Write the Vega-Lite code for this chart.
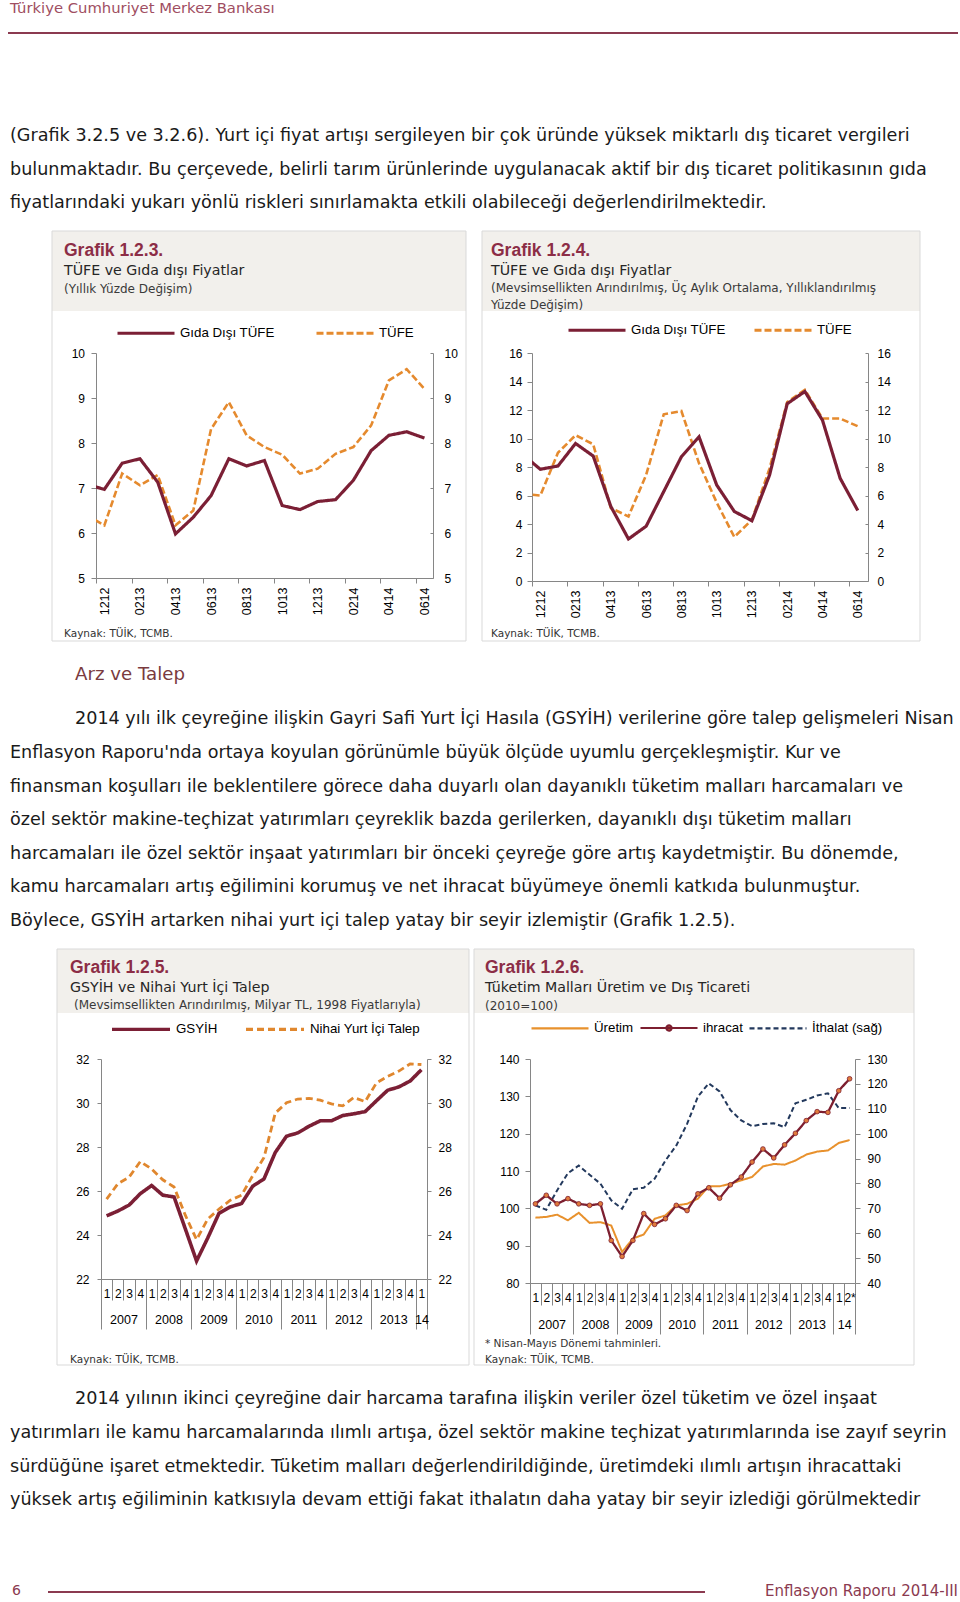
{
"background": "#ffffff",
"padding": 0,
"autosize": {"type": "pad"},
"datasets": {
"c1": [
{"t":-1,"Gıda Dışı TÜFE":7.08,"TÜFE":6.40},
{"t":0,"Gıda Dışı TÜFE":6.97,"TÜFE":6.17},
{"t":1,"Gıda Dışı TÜFE":7.55,"TÜFE":7.32},
{"t":2,"Gıda Dışı TÜFE":7.65,"TÜFE":7.06},
{"t":3,"Gıda Dışı TÜFE":7.13,"TÜFE":7.29},
{"t":4,"Gıda Dışı TÜFE":5.98,"TÜFE":6.17},
{"t":5,"Gıda Dışı TÜFE":6.35,"TÜFE":6.50},
{"t":6,"Gıda Dışı TÜFE":6.83,"TÜFE":8.31},
{"t":7,"Gıda Dışı TÜFE":7.65,"TÜFE":8.91},
{"t":8,"Gıda Dışı TÜFE":7.49,"TÜFE":8.17},
{"t":9,"Gıda Dışı TÜFE":7.61,"TÜFE":7.91},
{"t":10,"Gıda Dışı TÜFE":6.61,"TÜFE":7.74},
{"t":11,"Gıda Dışı TÜFE":6.52,"TÜFE":7.32},
{"t":12,"Gıda Dışı TÜFE":6.70,"TÜFE":7.43},
{"t":13,"Gıda Dışı TÜFE":6.74,"TÜFE":7.76},
{"t":14,"Gıda Dışı TÜFE":7.17,"TÜFE":7.91},
{"t":15,"Gıda Dışı TÜFE":7.83,"TÜFE":8.39},
{"t":16,"Gıda Dışı TÜFE":8.17,"TÜFE":9.39},
{"t":17,"Gıda Dışı TÜFE":8.25,"TÜFE":9.64},
{"t":18,"Gıda Dışı TÜFE":8.11,"TÜFE":9.20}
],
"c2": [
{"t":-1,"Gıda Dışı TÜFE":8.88,"TÜFE":6.11},
{"t":0,"Gıda Dışı TÜFE":7.84,"TÜFE":6.00},
{"t":1,"Gıda Dışı TÜFE":8.07,"TÜFE":9.00},
{"t":2,"Gıda Dışı TÜFE":9.65,"TÜFE":10.23},
{"t":3,"Gıda Dışı TÜFE":8.77,"TÜFE":9.60},
{"t":4,"Gıda Dışı TÜFE":5.23,"TÜFE":5.12},
{"t":5,"Gıda Dışı TÜFE":2.95,"TÜFE":4.53},
{"t":6,"Gıda Dışı TÜFE":3.84,"TÜFE":7.44},
{"t":7,"Gıda Dışı TÜFE":6.28,"TÜFE":11.70},
{"t":8,"Gıda Dışı TÜFE":8.72,"TÜFE":11.93},
{"t":9,"Gıda Dışı TÜFE":10.12,"TÜFE":8.26},
{"t":10,"Gıda Dışı TÜFE":6.74,"TÜFE":5.51},
{"t":11,"Gıda Dışı TÜFE":4.88,"TÜFE":3.09},
{"t":12,"Gıda Dışı TÜFE":4.23,"TÜFE":4.30},
{"t":13,"Gıda Dışı TÜFE":7.44,"TÜFE":7.90},
{"t":14,"Gıda Dışı TÜFE":12.44,"TÜFE":12.56},
{"t":15,"Gıda Dışı TÜFE":13.30,"TÜFE":13.42},
{"t":16,"Gıda Dışı TÜFE":11.28,"TÜFE":11.40},
{"t":17,"Gıda Dışı TÜFE":7.21,"TÜFE":11.40},
{"t":18,"Gıda Dışı TÜFE":4.95,"TÜFE":10.86}
],
"c3": [
{"i":0,"donem":"2007-1","GSYİH":24.87,"Nihai Yurt İçi Talep":25.63},
{"i":1,"donem":"2007-2","GSYİH":25.09,"Nihai Yurt İçi Talep":26.33},
{"i":2,"donem":"2007-3","GSYİH":25.36,"Nihai Yurt İçi Talep":26.63},
{"i":3,"donem":"2007-4","GSYİH":25.88,"Nihai Yurt İçi Talep":27.34},
{"i":4,"donem":"2008-1","GSYİH":26.25,"Nihai Yurt İçi Talep":27.00},
{"i":5,"donem":"2008-2","GSYİH":25.81,"Nihai Yurt İçi Talep":26.51},
{"i":6,"donem":"2008-3","GSYİH":25.73,"Nihai Yurt İçi Talep":26.18},
{"i":7,"donem":"2008-4","GSYİH":24.28,"Nihai Yurt İçi Talep":24.90},
{"i":8,"donem":"2009-1","GSYİH":22.82,"Nihai Yurt İçi Talep":23.79},
{"i":9,"donem":"2009-2","GSYİH":23.87,"Nihai Yurt İçi Talep":24.73},
{"i":10,"donem":"2009-3","GSYİH":24.99,"Nihai Yurt İçi Talep":25.18},
{"i":11,"donem":"2009-4","GSYİH":25.28,"Nihai Yurt İçi Talep":25.58},
{"i":12,"donem":"2010-1","GSYİH":25.43,"Nihai Yurt İçi Talep":25.81},
{"i":13,"donem":"2010-2","GSYİH":26.22,"Nihai Yurt İçi Talep":26.70},
{"i":14,"donem":"2010-3","GSYİH":26.55,"Nihai Yurt İçi Talep":27.52},
{"i":15,"donem":"2010-4","GSYİH":27.75,"Nihai Yurt İçi Talep":29.54},
{"i":16,"donem":"2011-1","GSYİH":28.49,"Nihai Yurt İçi Talep":30.01},
{"i":17,"donem":"2011-2","GSYİH":28.64,"Nihai Yurt İçi Talep":30.18},
{"i":18,"donem":"2011-3","GSYİH":28.94,"Nihai Yurt İçi Talep":30.21},
{"i":19,"donem":"2011-4","GSYİH":29.19,"Nihai Yurt İçi Talep":30.13},
{"i":20,"donem":"2012-1","GSYİH":29.19,"Nihai Yurt İçi Talep":29.96},
{"i":21,"donem":"2012-2","GSYİH":29.43,"Nihai Yurt İçi Talep":29.87},
{"i":22,"donem":"2012-3","GSYİH":29.51,"Nihai Yurt İçi Talep":30.25},
{"i":23,"donem":"2012-4","GSYİH":29.61,"Nihai Yurt İçi Talep":30.06},
{"i":24,"donem":"2013-1","GSYİH":30.10,"Nihai Yurt İçi Talep":30.91},
{"i":25,"donem":"2013-2","GSYİH":30.58,"Nihai Yurt İçi Talep":31.21},
{"i":26,"donem":"2013-3","GSYİH":30.73,"Nihai Yurt İçi Talep":31.45},
{"i":27,"donem":"2013-4","GSYİH":31.00,"Nihai Yurt İçi Talep":31.78},
{"i":28,"donem":"2014-1","GSYİH":31.51,"Nihai Yurt İçi Talep":31.75}
],
"c4": [
{"i":0,"donem":"2007-1","Üretim":97.5,"ihracat":101.2,"İthalat (sağ)":71.2},
{"i":1,"donem":"2007-2","Üretim":97.7,"ihracat":103.5,"İthalat (sağ)":69.4},
{"i":2,"donem":"2007-3","Üretim":98.3,"ihracat":101.2,"İthalat (sağ)":77.2},
{"i":3,"donem":"2007-4","Üretim":96.8,"ihracat":102.6,"İthalat (sağ)":84.1},
{"i":4,"donem":"2008-1","Üretim":98.8,"ihracat":101.2,"İthalat (sağ)":87.2},
{"i":5,"donem":"2008-2","Üretim":96.1,"ihracat":100.8,"İthalat (sağ)":83.5},
{"i":6,"donem":"2008-3","Üretim":96.3,"ihracat":101.2,"İthalat (sağ)":79.9},
{"i":7,"donem":"2008-4","Üretim":95.4,"ihracat":91.4,"İthalat (sağ)":73.2},
{"i":8,"donem":"2009-1","Üretim":88.3,"ihracat":87.1,"İthalat (sağ)":69.8},
{"i":9,"donem":"2009-2","Üretim":91.9,"ihracat":91.4,"İthalat (sağ)":77.7},
{"i":10,"donem":"2009-3","Üretim":93.0,"ihracat":98.6,"İthalat (sağ)":78.3},
{"i":11,"donem":"2009-4","Üretim":97.2,"ihracat":95.7,"İthalat (sağ)":81.9},
{"i":12,"donem":"2010-1","Üretim":98.1,"ihracat":97.2,"İthalat (sağ)":89.2},
{"i":13,"donem":"2010-2","Üretim":100.8,"ihracat":100.8,"İthalat (sağ)":95.2},
{"i":14,"donem":"2010-3","Üretim":101.2,"ihracat":99.4,"İthalat (sağ)":103.9},
{"i":15,"donem":"2010-4","Üretim":102.6,"ihracat":103.9,"İthalat (sağ)":114.9},
{"i":16,"donem":"2011-1","Üretim":105.9,"ihracat":105.5,"İthalat (sağ)":120.2},
{"i":17,"donem":"2011-2","Üretim":105.9,"ihracat":102.7,"İthalat (sağ)":117.0},
{"i":18,"donem":"2011-3","Üretim":106.6,"ihracat":106.3,"İthalat (sağ)":109.5},
{"i":19,"donem":"2011-4","Üretim":107.5,"ihracat":108.4,"İthalat (sağ)":105.3},
{"i":20,"donem":"2012-1","Üretim":108.4,"ihracat":112.4,"İthalat (sağ)":103.0},
{"i":21,"donem":"2012-2","Üretim":111.2,"ihracat":115.9,"İthalat (sağ)":103.9},
{"i":22,"donem":"2012-3","Üretim":111.9,"ihracat":113.5,"İthalat (sağ)":104.2},
{"i":23,"donem":"2012-4","Üretim":111.7,"ihracat":117.0,"İthalat (sağ)":102.6},
{"i":24,"donem":"2013-1","Üretim":112.8,"ihracat":120.1,"İthalat (sağ)":112.2},
{"i":25,"donem":"2013-2","Üretim":114.4,"ihracat":123.5,"İthalat (sağ)":113.6},
{"i":26,"donem":"2013-3","Üretim":115.2,"ihracat":125.9,"İthalat (sağ)":115.3},
{"i":27,"donem":"2013-4","Üretim":115.5,"ihracat":125.7,"İthalat (sağ)":116.2},
{"i":28,"donem":"2014-1","Üretim":117.5,"ihracat":131.5,"İthalat (sağ)":110.3},
{"i":29,"donem":"2014-2","Üretim":118.3,"ihracat":134.7,"İthalat (sağ)":110.3}
]
},
"spacing": 0,
"resolve": {"scale": {"color": "independent", "strokeDash": "independent"}},
"vconcat": [
{
"width": 960, "height": 230,
"data": {"values": [{}]},
"layer": [
{"mark": {"type": "text", "font": "DejaVu Sans", "fontSize": 14.8, "color": "#a04e62", "align": "left", "baseline": "middle"},
 "encoding": {"x": {"value": 10}, "y": {"value": 9}, "text": {"value": "Türkiye Cumhuriyet Merkez Bankası"}}},
{"mark": {"type": "rule", "color": "#8b3a50", "strokeWidth": 2},
 "encoding": {"x": {"value": 8}, "x2": {"value": 958}, "y": {"value": 33}}},
{"data": {"values": [{"metin": ["(Grafik 3.2.5 ve 3.2.6). Yurt içi fiyat artışı sergileyen bir çok üründe yüksek miktarlı dış ticaret vergileri", "bulunmaktadır. Bu çerçevede, belirli tarım ürünlerinde uygulanacak aktif bir dış ticaret politikasının gıda", "fiyatlarındaki yukarı yönlü riskleri sınırlamakta etkili olabileceği değerlendirilmektedir."]}]},
 "mark": {"type": "text", "font": "DejaVu Sans", "fontSize": 17.6, "color": "#1a1a1a", "align": "left", "baseline": "alphabetic", "lineHeight": 33.5},
 "encoding": {"x": {"value": 10}, "y": {"value": 141.3}, "text": {"field": "metin", "type": "nominal"}}}
]
},
{
"spacing": 0,
"resolve": {"scale": {"color": "independent", "strokeDash": "independent"}},
"hconcat": [
{"width": 50.5, "height": 1, "data": {"values": []}, "mark": "text"},
{
"width": 337, "height": 225,
"data": {"name": "c1"},
"layer": [
{"data": {"values": [{}]}, "mark": {"type": "rect", "color": "#f2f0ec"},
 "encoding": {"x": {"value": -44}, "x2": {"value": 370}, "y": {"value": -122}, "y2": {"value": -42}}},
{"data": {"values": [{}]}, "mark": {"type": "rect", "filled": false, "color": "#d9d9d9", "strokeWidth": 1},
 "encoding": {"x": {"value": -44}, "x2": {"value": 370}, "y": {"value": -122}, "y2": {"value": 288}}},
{"data": {"values": [{"metin": "Grafik 1.2.3."}]}, "mark": {"type": "text", "font": "Liberation Sans", "fontWeight": "bold", "fontSize": 17.5, "color": "#8c2d46", "align": "left", "baseline": "middle"},
 "encoding": {"x": {"value": -32}, "y": {"value": -102}, "text": {"field": "metin", "type": "nominal"}}},
{"data": {"values": [{"metin": "TÜFE ve Gıda dışı Fiyatlar"}]}, "mark": {"type": "text", "font": "DejaVu Sans", "fontSize": 14.2, "color": "#262626", "align": "left", "baseline": "middle"},
 "encoding": {"x": {"value": -32}, "y": {"value": -82}, "text": {"field": "metin", "type": "nominal"}}},
{"data": {"values": [{"metin": "(Yıllık Yüzde Değişim)"}]}, "mark": {"type": "text", "font": "DejaVu Sans", "fontSize": 12, "color": "#3a3a3a", "align": "left", "baseline": "middle"},
 "encoding": {"x": {"value": -32}, "y": {"value": -64}, "text": {"field": "metin", "type": "nominal"}}},
{"data": {"values": [{"metin": "Kaynak:  TÜİK, TCMB."}]}, "mark": {"type": "text", "font": "DejaVu Sans", "fontSize": 10.5, "color": "#333333", "align": "left", "baseline": "middle"},
 "encoding": {"x": {"value": -32}, "y": {"value": 281}, "text": {"field": "metin", "type": "nominal"}}},
{"transform": [{"fold": ["TÜFE"], "as": ["seri", "v"]}],
 "mark": {"type": "line", "clip": true, "strokeWidth": 2.6},
 "encoding": {
  "x": {"field": "t", "type": "quantitative", "scale": {"domain": [-0.47, 18.48], "nice": false, "zero": false},
        "axis": {"orient": "bottom", "title": null, "values": [0,2,4,6,8,10,12,14,16,18], "labelExpr": "timeFormat(datetime(2012, 11 + datum.value, 1), '%m%y')", "labelAngle": 270, "labelFontSize": 12.5, "labelPadding": 4, "tickSize": 5, "tickOffset": -8.4, "labelOffset": 8.4, "labelOverlap": false, "labelFlush": false, "labelBound": false}},
  "y": {"field": "v", "type": "quantitative", "scale": {"domain": [5, 10], "nice": false, "zero": false},
        "axis": {"orient": "right", "title": null, "values": [5,6,7,8,9,10], "tickSize": -3, "labelPadding": 14, "labelOverlap": false, "labelFlush": false}},
  "color": {"field": "seri", "type": "nominal", "scale": {"domain": ["Gıda Dışı TÜFE", "TÜFE"], "range": ["#7b1f35", "#e58a2e"]},
        "legend": {"title": null, "orient": "none", "legendX": 20, "legendY": -50, "direction": "horizontal", "symbolType": "stroke", "symbolSize": 3249, "symbolStrokeWidth": 3, "labelOffset": 4, "columnPadding": 35, "padding": 0}},
  "strokeDash": {"field": "seri", "type": "nominal", "scale": {"domain": ["Gıda Dışı TÜFE", "TÜFE"], "range": [[1, 0], [7, 3]]}}
 }},
{"transform": [{"fold": ["Gıda Dışı TÜFE"], "as": ["seri", "v"]}],
 "mark": {"type": "line", "clip": true, "strokeWidth": 3.2},
 "encoding": {
  "x": {"field": "t", "type": "quantitative",
        "axis": {"orient": "bottom", "title": null, "values": [0,2,4,6,8,10,12,14,16,18], "labelExpr": "timeFormat(datetime(2012, 11 + datum.value, 1), '%m%y')", "labelAngle": 270, "labelFontSize": 12.5, "labelPadding": 4, "tickSize": 5, "tickOffset": -8.4, "labelOffset": 8.4, "labelOverlap": false, "labelFlush": false, "labelBound": false}},
  "y": {"field": "v", "type": "quantitative", "axis": {"orient": "left", "title": null, "values": [5,6,7,8,9,10], "tickSize": 5, "labelPadding": 6.5, "labelOverlap": false, "labelFlush": false}},
  "color": {"field": "seri", "type": "nominal"},
  "strokeDash": {"field": "seri", "type": "nominal"}
 }}
],
"resolve": {"axis": {"y": "independent"}}
},
{"width": 14, "height": 1, "data": {"values": []}, "mark": "text"},
{
"width": 336, "height": 228,
"data": {"name": "c2"},
"layer": [
{"data": {"values": [{}]}, "mark": {"type": "rect", "color": "#f2f0ec"},
 "encoding": {"x": {"value": -50}, "x2": {"value": 388}, "y": {"value": -122}, "y2": {"value": -42}}},
{"data": {"values": [{}]}, "mark": {"type": "rect", "filled": false, "color": "#d9d9d9", "strokeWidth": 1},
 "encoding": {"x": {"value": -50}, "x2": {"value": 388}, "y": {"value": -122}, "y2": {"value": 288}}},
{"data": {"values": [{"metin": "Grafik 1.2.4."}]}, "mark": {"type": "text", "font": "Liberation Sans", "fontWeight": "bold", "fontSize": 17.5, "color": "#8c2d46", "align": "left", "baseline": "middle"},
 "encoding": {"x": {"value": -41}, "y": {"value": -102}, "text": {"field": "metin", "type": "nominal"}}},
{"data": {"values": [{"metin": "TÜFE ve Gıda dışı Fiyatlar"}]}, "mark": {"type": "text", "font": "DejaVu Sans", "fontSize": 14.2, "color": "#262626", "align": "left", "baseline": "middle"},
 "encoding": {"x": {"value": -41}, "y": {"value": -82}, "text": {"field": "metin", "type": "nominal"}}},
{"data": {"values": [{"metin": "(Mevsimsellikten Arındırılmış, Üç Aylık Ortalama, Yıllıklandırılmış"}]}, "mark": {"type": "text", "font": "DejaVu Sans", "fontSize": 12, "color": "#3a3a3a", "align": "left", "baseline": "middle"},
 "encoding": {"x": {"value": -41}, "y": {"value": -65}, "text": {"field": "metin", "type": "nominal"}}},
{"data": {"values": [{"metin": "Yüzde Değişim)"}]}, "mark": {"type": "text", "font": "DejaVu Sans", "fontSize": 12, "color": "#3a3a3a", "align": "left", "baseline": "middle"},
 "encoding": {"x": {"value": -41}, "y": {"value": -48}, "text": {"field": "metin", "type": "nominal"}}},
{"data": {"values": [{"metin": "Kaynak: TÜİK, TCMB."}]}, "mark": {"type": "text", "font": "DejaVu Sans", "fontSize": 10.5, "color": "#333333", "align": "left", "baseline": "middle"},
 "encoding": {"x": {"value": -41}, "y": {"value": 281}, "text": {"field": "metin", "type": "nominal"}}},
{"transform": [{"fold": ["TÜFE"], "as": ["seri", "v"]}],
 "mark": {"type": "line", "clip": true, "strokeWidth": 2.6},
 "encoding": {
  "x": {"field": "t", "type": "quantitative", "scale": {"domain": [-0.47, 18.58], "nice": false, "zero": false},
        "axis": {"orient": "bottom", "title": null, "values": [0,2,4,6,8,10,12,14,16,18], "labelExpr": "timeFormat(datetime(2012, 11 + datum.value, 1), '%m%y')", "labelAngle": 270, "labelFontSize": 12.5, "labelPadding": 4, "tickSize": 5, "tickOffset": -8.3, "labelOffset": 8.3, "labelOverlap": false, "labelFlush": false, "labelBound": false}},
  "y": {"field": "v", "type": "quantitative", "scale": {"domain": [0, 16], "nice": false, "zero": false},
        "axis": {"orient": "right", "title": null, "values": [0,2,4,6,8,10,12,14,16], "tickSize": -3, "labelPadding": 12, "labelOverlap": false, "labelFlush": false}},
  "color": {"field": "seri", "type": "nominal", "scale": {"domain": ["Gıda Dışı TÜFE", "TÜFE"], "range": ["#7b1f35", "#e58a2e"]},
        "legend": {"title": null, "orient": "none", "legendX": 35, "legendY": -53, "direction": "horizontal", "symbolType": "stroke", "symbolSize": 3249, "symbolStrokeWidth": 3, "labelOffset": 4, "columnPadding": 22, "padding": 0}},
  "strokeDash": {"field": "seri", "type": "nominal", "scale": {"domain": ["Gıda Dışı TÜFE", "TÜFE"], "range": [[1, 0], [7, 3]]}}
 }},
{"transform": [{"fold": ["Gıda Dışı TÜFE"], "as": ["seri", "v"]}],
 "mark": {"type": "line", "clip": true, "strokeWidth": 3.2},
 "encoding": {
  "x": {"field": "t", "type": "quantitative",
        "axis": {"orient": "bottom", "title": null, "values": [0,2,4,6,8,10,12,14,16,18], "labelExpr": "timeFormat(datetime(2012, 11 + datum.value, 1), '%m%y')", "labelAngle": 270, "labelFontSize": 12.5, "labelPadding": 4, "tickSize": 5, "tickOffset": -8.3, "labelOffset": 8.3, "labelOverlap": false, "labelFlush": false, "labelBound": false}},
  "y": {"field": "v", "type": "quantitative", "axis": {"orient": "left", "title": null, "values": [0,2,4,6,8,10,12,14,16], "tickSize": 5, "labelPadding": 5, "labelOverlap": false, "labelFlush": false}},
  "color": {"field": "seri", "type": "nominal"},
  "strokeDash": {"field": "seri", "type": "nominal"}
 }}
],
"resolve": {"axis": {"y": "independent"}}
}
]
},
{
"width": 960, "height": 306,
"data": {"values": [{}]},
"layer": [
{"mark": {"type": "text", "font": "DejaVu Sans", "fontSize": 18.2, "color": "#7a3b3f", "align": "left", "baseline": "middle"},
 "encoding": {"x": {"value": 75}, "y": {"value": 33}, "text": {"value": "Arz ve Talep"}}},
{"data": {"values": [{"metin": "2014 yılı ilk çeyreğine ilişkin Gayri Safi Yurt İçi Hasıla (GSYİH) verilerine göre talep gelişmeleri Nisan"}]},
 "mark": {"type": "text", "font": "DejaVu Sans", "fontSize": 17.6, "color": "#1a1a1a", "align": "left", "baseline": "alphabetic"},
 "encoding": {"x": {"value": 75}, "y": {"value": 82.3}, "text": {"field": "metin", "type": "nominal"}}},
{"data": {"values": [{"metin": ["Enflasyon Raporu'nda ortaya koyulan görünümle büyük ölçüde uyumlu gerçekleşmiştir. Kur ve", "finansman koşulları ile beklentilere görece daha duyarlı olan dayanıklı tüketim malları harcamaları ve", "özel sektör makine-teçhizat yatırımları çeyreklik bazda gerilerken, dayanıklı dışı tüketim malları", "harcamaları ile özel sektör inşaat yatırımları bir önceki çeyreğe göre artış kaydetmiştir. Bu dönemde,", "kamu harcamaları artış eğilimini korumuş ve net ihracat büyümeye önemli katkıda bulunmuştur.", "Böylece, GSYİH artarken nihai yurt içi talep yatay bir seyir izlemiştir (Grafik 1.2.5)."]}]},
 "mark": {"type": "text", "font": "DejaVu Sans", "fontSize": 17.6, "color": "#1a1a1a", "align": "left", "baseline": "alphabetic", "lineHeight": 33.5},
 "encoding": {"x": {"value": 10}, "y": {"value": 116.3}, "text": {"field": "metin", "type": "nominal"}}}
]
},
{
"spacing": 0,
"resolve": {"scale": {"color": "independent", "strokeDash": "independent"}},
"hconcat": [
{"width": 55.5, "height": 1, "data": {"values": []}, "mark": "text"},
{
"width": 326, "height": 220,
"data": {"name": "c3"},
"layer": [
{"data": {"values": [{}]}, "mark": {"type": "rect", "color": "#f2f0ec"},
 "encoding": {"x": {"value": -44}, "x2": {"value": 368}, "y": {"value": -110}, "y2": {"value": -46}}},
{"data": {"values": [{}]}, "mark": {"type": "rect", "filled": false, "color": "#d9d9d9", "strokeWidth": 1},
 "encoding": {"x": {"value": -44}, "x2": {"value": 368}, "y": {"value": -110}, "y2": {"value": 306}}},
{"data": {"values": [{"metin": "Grafik 1.2.5."}]}, "mark": {"type": "text", "font": "Liberation Sans", "fontWeight": "bold", "fontSize": 17.5, "color": "#8c2d46", "align": "left", "baseline": "middle"},
 "encoding": {"x": {"value": -31}, "y": {"value": -91}, "text": {"field": "metin", "type": "nominal"}}},
{"data": {"values": [{"metin": "GSYİH ve Nihai Yurt İçi Talep"}]}, "mark": {"type": "text", "font": "DejaVu Sans", "fontSize": 14.2, "color": "#262626", "align": "left", "baseline": "middle"},
 "encoding": {"x": {"value": -31}, "y": {"value": -71}, "text": {"field": "metin", "type": "nominal"}}},
{"data": {"values": [{"metin": "(Mevsimsellikten Arındırılmış, Milyar TL, 1998 Fiyatlarıyla)"}]}, "mark": {"type": "text", "font": "DejaVu Sans", "fontSize": 12, "color": "#3a3a3a", "align": "left", "baseline": "middle"},
 "encoding": {"x": {"value": -27}, "y": {"value": -54}, "text": {"field": "metin", "type": "nominal"}}},
{"data": {"values": [{"metin": "Kaynak: TÜİK, TCMB."}]}, "mark": {"type": "text", "font": "DejaVu Sans", "fontSize": 10.5, "color": "#333333", "align": "left", "baseline": "middle"},
 "encoding": {"x": {"value": -31}, "y": {"value": 301}, "text": {"field": "metin", "type": "nominal"}}},
{"transform": [{"fold": ["Nihai Yurt İçi Talep"], "as": ["seri", "v"]}],
 "mark": {"type": "line", "strokeWidth": 2.8},
 "encoding": {
  "x": {"field": "i", "type": "quantitative", "scale": {"domain": [-0.5, 28.5], "nice": false, "zero": false},
        "axis": {"orient": "bottom", "title": null, "domain": false, "values": [-0.5, 3.5, 7.5, 11.5, 15.5, 19.5, 23.5, 27.5, 28.5], "labelExpr": "datum.value > 28 ? '' : datum.value > 27 ? '14' : '' + (2007 + (datum.value + 0.5) / 4)", "tickSize": 50, "labelPadding": -15.2, "labelFontSize": 12.5, "labelAngle": 0, "labelOverlap": false, "labelFlush": false, "labelBound": false, "labelOffset": {"condition": {"test": "datum.value > 27", "value": 5.62}, "value": 22.48}}},
  "y": {"field": "v", "type": "quantitative", "scale": {"domain": [22, 32], "nice": false, "zero": false},
        "axis": {"orient": "right", "title": null, "values": [22,24,26,28,30,32], "tickSize": 4, "labelPadding": 7, "labelOverlap": false, "labelFlush": false}},
  "color": {"field": "seri", "type": "nominal", "scale": {"domain": ["GSYİH", "Nihai Yurt İçi Talep"], "range": ["#7b1f35", "#e0872e"]},
        "legend": {"title": null, "orient": "none", "legendX": 9, "legendY": -61, "direction": "horizontal", "symbolType": "stroke", "symbolSize": 3364, "symbolStrokeWidth": 3.2, "labelOffset": 4, "columnPadding": 21, "padding": 0}},
  "strokeDash": {"field": "seri", "type": "nominal", "scale": {"domain": ["GSYİH", "Nihai Yurt İçi Talep"], "range": [[1, 0], [7, 4]]}}
 }},
{"transform": [{"fold": ["GSYİH"], "as": ["seri", "v"]}],
 "mark": {"type": "line", "strokeWidth": 3.6},
 "encoding": {
  "x": {"field": "i", "type": "quantitative",
        "axis": {"orient": "bottom", "title": null, "values": [0,1,2,3,4,5,6,7,8,9,10,11,12,13,14,15,16,17,18,19,20,21,22,23,24,25,26,27,28], "labelExpr": "'' + (datum.value % 4 + 1)", "tickSize": 21, "tickOffset": -5.62, "labelOffset": 5.62, "labelPadding": -11.2, "labelFontSize": 12, "labelAngle": 0, "labelOverlap": false, "labelFlush": false, "labelBound": false}},
  "y": {"field": "v", "type": "quantitative", "axis": {"orient": "left", "title": null, "values": [22,24,26,28,30,32], "tickSize": 4, "labelPadding": 8, "labelOverlap": false, "labelFlush": false}},
  "color": {"field": "seri", "type": "nominal"},
  "strokeDash": {"field": "seri", "type": "nominal"}
 }}
],
"resolve": {"axis": {"x": "independent", "y": "independent"}}
},
{"width": 3, "height": 1, "data": {"values": []}, "mark": "text"},
{
"width": 325, "height": 224,
"data": {"name": "c4"},
"layer": [
{"data": {"values": [{}]}, "mark": {"type": "rect", "color": "#f2f0ec"},
 "encoding": {"x": {"value": -56}, "x2": {"value": 384}, "y": {"value": -110}, "y2": {"value": -46}}},
{"data": {"values": [{}]}, "mark": {"type": "rect", "filled": false, "color": "#d9d9d9", "strokeWidth": 1},
 "encoding": {"x": {"value": -56}, "x2": {"value": 384}, "y": {"value": -110}, "y2": {"value": 306}}},
{"data": {"values": [{"metin": "Grafik 1.2.6."}]}, "mark": {"type": "text", "font": "Liberation Sans", "fontWeight": "bold", "fontSize": 17.5, "color": "#8c2d46", "align": "left", "baseline": "middle"},
 "encoding": {"x": {"value": -45}, "y": {"value": -91}, "text": {"field": "metin", "type": "nominal"}}},
{"data": {"values": [{"metin": "Tüketim Malları Üretim ve Dış Ticareti"}]}, "mark": {"type": "text", "font": "DejaVu Sans", "fontSize": 14.2, "color": "#262626", "align": "left", "baseline": "middle"},
 "encoding": {"x": {"value": -45}, "y": {"value": -71}, "text": {"field": "metin", "type": "nominal"}}},
{"data": {"values": [{"metin": "(2010=100)"}]}, "mark": {"type": "text", "font": "DejaVu Sans", "fontSize": 12, "color": "#3a3a3a", "align": "left", "baseline": "middle"},
 "encoding": {"x": {"value": -45}, "y": {"value": -53}, "text": {"field": "metin", "type": "nominal"}}},
{"data": {"values": [{"metin": "* Nisan-Mayıs Dönemi tahminleri."}]}, "mark": {"type": "text", "font": "DejaVu Sans", "fontSize": 10.5, "color": "#333333", "align": "left", "baseline": "middle"},
 "encoding": {"x": {"value": -45}, "y": {"value": 285}, "text": {"field": "metin", "type": "nominal"}}},
{"data": {"values": [{"metin": "Kaynak: TÜİK, TCMB."}]}, "mark": {"type": "text", "font": "DejaVu Sans", "fontSize": 10.5, "color": "#333333", "align": "left", "baseline": "middle"},
 "encoding": {"x": {"value": -45}, "y": {"value": 301}, "text": {"field": "metin", "type": "nominal"}}},
{"transform": [{"fold": ["İthalat (sağ)"], "as": ["seri", "v"]}],
 "mark": {"type": "line", "strokeWidth": 2},
 "encoding": {
  "x": {"field": "i", "type": "quantitative", "scale": {"domain": [-0.5, 29.5], "nice": false, "zero": false},
        "axis": {"orient": "bottom", "title": null, "domain": false, "values": [-0.5, 3.5, 7.5, 11.5, 15.5, 19.5, 23.5, 27.5, 29.5], "labelExpr": "datum.value > 29 ? '' : datum.value > 27 ? '14' : '' + (2007 + (datum.value + 0.5) / 4)", "tickSize": 51, "labelPadding": -15.2, "labelFontSize": 12.5, "labelAngle": 0, "labelOverlap": false, "labelFlush": false, "labelBound": false, "labelOffset": {"condition": {"test": "datum.value > 27", "value": 10.83}, "value": 21.67}}},
  "y": {"field": "v", "type": "quantitative", "scale": {"domain": [40, 130], "nice": false, "zero": false},
        "axis": {"orient": "right", "title": null, "values": [40,50,60,70,80,90,100,110,120,130], "tickSize": 5, "labelPadding": 7, "labelOverlap": false, "labelFlush": false}},
  "color": {"field": "seri", "type": "nominal", "scale": {"domain": ["Üretim", "ihracat", "İthalat (sağ)"], "range": ["#e8912d", "#7d1f30", "#23395d"]},
        "legend": {"title": null, "orient": "none", "legendX": 0, "legendY": -61, "direction": "horizontal", "symbolType": "stroke", "symbolSize": 3249, "symbolStrokeWidth": 2.2, "labelOffset": 4, "columnPadding": 2, "padding": 0,
          "encode": {"symbols": {"update": {"shape": {"signal": "datum.value === 'ihracat' ? 'M-1,0H1M0.09,0A0.09,0.09,0,1,1,-0.09,0A0.09,0.09,0,1,1,0.09,0' : 'stroke'"}, "fill": {"signal": "datum.value === 'ihracat' ? '#e07a3c' : 'transparent'"}}}}}},
  "strokeDash": {"field": "seri", "type": "nominal", "scale": {"domain": ["Üretim", "ihracat", "İthalat (sağ)"], "range": [[1, 0], [1, 0], [5, 3]]}}
 }},
{
"layer": [
{"transform": [{"fold": ["Üretim"], "as": ["seri", "v"]}],
 "mark": {"type": "line", "strokeWidth": 2},
 "encoding": {
  "x": {"field": "i", "type": "quantitative",
        "axis": {"orient": "bottom", "title": null, "values": [0,1,2,3,4,5,6,7,8,9,10,11,12,13,14,15,16,17,18,19,20,21,22,23,24,25,26,27,28,29], "labelExpr": "datum.value == 29 ? '2*' : '' + (datum.value % 4 + 1)", "tickSize": 22, "tickOffset": -5.42, "labelOffset": 5.42, "labelPadding": -12.2, "labelFontSize": 12, "labelAngle": 0, "labelOverlap": false, "labelFlush": false, "labelBound": false}},
  "y": {"field": "v", "type": "quantitative", "scale": {"domain": [80, 140], "nice": false, "zero": false},
        "axis": {"orient": "left", "title": null, "values": [80,90,100,110,120,130,140], "tickSize": 5, "labelPadding": 6, "labelOverlap": false, "labelFlush": false}},
  "color": {"field": "seri", "type": "nominal"},
  "strokeDash": {"field": "seri", "type": "nominal"}
 }},
{"transform": [{"fold": ["ihracat"], "as": ["seri", "v"]}],
 "mark": {"type": "line", "strokeWidth": 2.3},
 "encoding": {
  "x": {"field": "i", "type": "quantitative",
        "axis": {"orient": "bottom", "title": null, "values": [0,1,2,3,4,5,6,7,8,9,10,11,12,13,14,15,16,17,18,19,20,21,22,23,24,25,26,27,28,29], "labelExpr": "datum.value == 29 ? '2*' : '' + (datum.value % 4 + 1)", "tickSize": 22, "tickOffset": -5.42, "labelOffset": 5.42, "labelPadding": -12.2, "labelFontSize": 12, "labelAngle": 0, "labelOverlap": false, "labelFlush": false, "labelBound": false}},
  "y": {"field": "v", "type": "quantitative",
        "axis": {"orient": "left", "title": null, "values": [80,90,100,110,120,130,140], "tickSize": 5, "labelPadding": 6, "labelOverlap": false, "labelFlush": false}},
  "color": {"field": "seri", "type": "nominal"},
  "strokeDash": {"field": "seri", "type": "nominal"}
 }},
{"transform": [{"fold": ["ihracat"], "as": ["seri", "v"]}],
 "mark": {"type": "point", "filled": true, "size": 22, "fill": "#e07a3c", "stroke": "#7d1f30", "strokeWidth": 0.8, "opacity": 1},
 "encoding": {
  "x": {"field": "i", "type": "quantitative",
        "axis": {"orient": "bottom", "title": null, "values": [0,1,2,3,4,5,6,7,8,9,10,11,12,13,14,15,16,17,18,19,20,21,22,23,24,25,26,27,28,29], "labelExpr": "datum.value == 29 ? '2*' : '' + (datum.value % 4 + 1)", "tickSize": 22, "tickOffset": -5.42, "labelOffset": 5.42, "labelPadding": -12.2, "labelFontSize": 12, "labelAngle": 0, "labelOverlap": false, "labelFlush": false, "labelBound": false}},
  "y": {"field": "v", "type": "quantitative",
        "axis": {"orient": "left", "title": null, "values": [80,90,100,110,120,130,140], "tickSize": 5, "labelPadding": 6, "labelOverlap": false, "labelFlush": false}}
 }}
]
}
],
"resolve": {"scale": {"y": "independent"}, "axis": {"x": "independent", "y": "independent"}}
}
]
},
{
"width": 960, "height": 238,
"data": {"values": [{}]},
"layer": [
{"data": {"values": [{"metin": "2014 yılının ikinci çeyreğine dair harcama tarafına ilişkin veriler özel tüketim ve özel inşaat"}]},
 "mark": {"type": "text", "font": "DejaVu Sans", "fontSize": 17.6, "color": "#1a1a1a", "align": "left", "baseline": "alphabetic"},
 "encoding": {"x": {"value": 75}, "y": {"value": 38.3}, "text": {"field": "metin", "type": "nominal"}}},
{"data": {"values": [{"metin": ["yatırımları ile kamu harcamalarında ılımlı artışa, özel sektör makine teçhizat yatırımlarında ise zayıf seyrin", "sürdüğüne işaret etmektedir. Tüketim malları değerlendirildiğinde, üretimdeki ılımlı artışın ihracattaki", "yüksek artış eğiliminin katkısıyla devam ettiği fakat ithalatın daha yatay bir seyir izlediği görülmektedir"]}]},
 "mark": {"type": "text", "font": "DejaVu Sans", "fontSize": 17.6, "color": "#1a1a1a", "align": "left", "baseline": "alphabetic", "lineHeight": 33.5},
 "encoding": {"x": {"value": 10}, "y": {"value": 72.3}, "text": {"field": "metin", "type": "nominal"}}},
{"mark": {"type": "text", "font": "DejaVu Sans", "fontSize": 14, "color": "#8b3a50", "align": "left", "baseline": "middle"},
 "encoding": {"x": {"value": 12}, "y": {"value": 225}, "text": {"value": "6"}}},
{"mark": {"type": "rule", "color": "#8b3a50", "strokeWidth": 2},
 "encoding": {"x": {"value": 48}, "x2": {"value": 705}, "y": {"value": 226}}},
{"mark": {"type": "text", "font": "DejaVu Sans", "fontSize": 15, "color": "#8b3a50", "align": "right", "baseline": "middle"},
 "encoding": {"x": {"value": 958}, "y": {"value": 225}, "text": {"value": "Enflasyon Raporu  2014-III"}}}
]
}
],
"config": {
 "view": {"stroke": null},
 "axis": {"labelFont": "Liberation Sans", "labelFontSize": 12, "labelColor": "#000000", "tickColor": "#868686", "domainColor": "#868686", "grid": false, "zindex": 1, "labelFlush": false, "labelOverlap": false, "labelBound": false},
 "legend": {"labelFont": "Liberation Sans", "labelFontSize": 13.3, "labelColor": "#000000", "labelLimit": 400}
}
}
